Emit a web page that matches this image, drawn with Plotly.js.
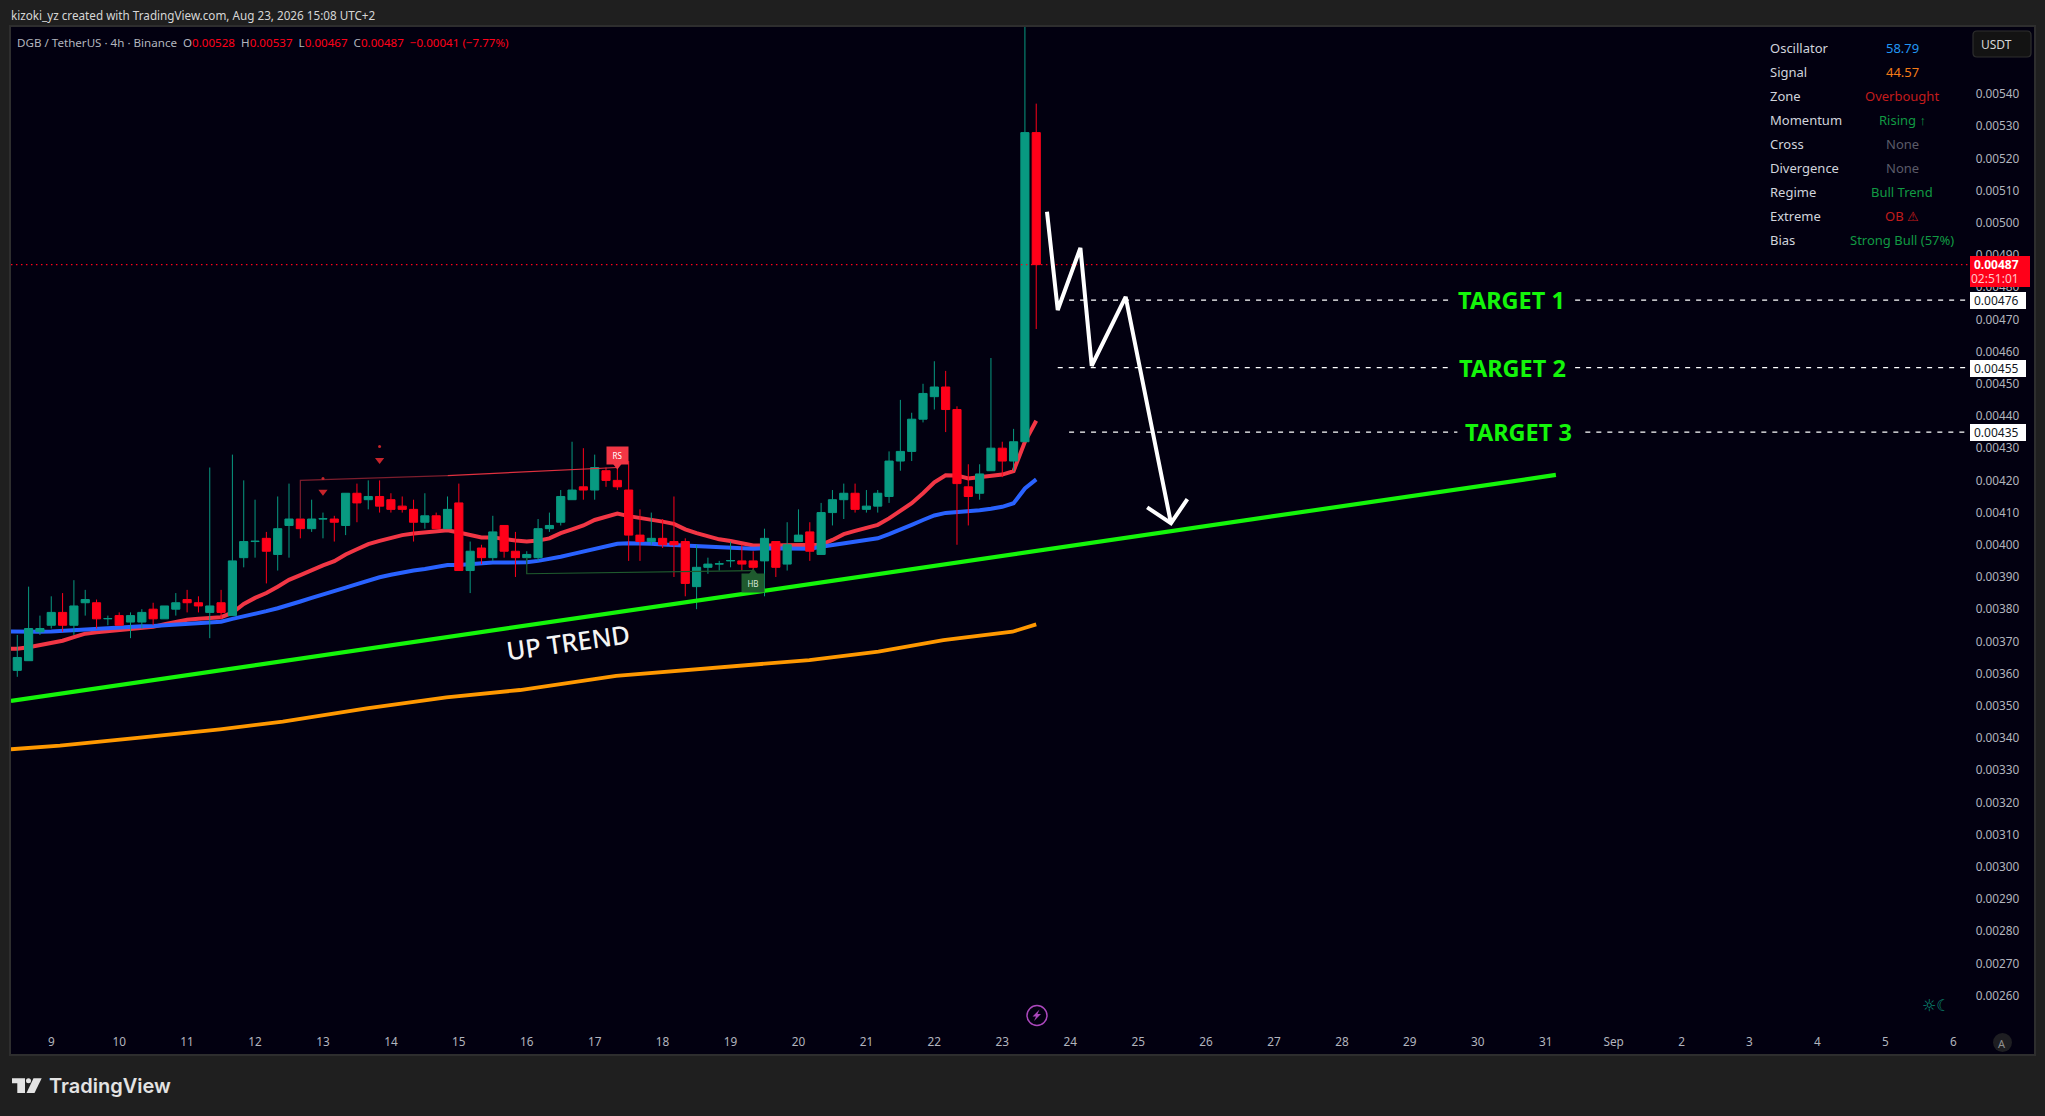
<!DOCTYPE html>
<html><head><meta charset="utf-8">
<script src="https://cdn.plot.ly/plotly-3.0.1.min.js"></script>
<style>html,body{margin:0;padding:0;background:#1f1f1f}#c{width:2045px;height:1116px}</style>
</head><body><div id="c"></div>
<script>
// Prices are written in units of 0.00001 USDT (the pair's tick size).
const UNIT = 1e-5;
const opens  = [361,364,373,375,379,375,382,382,377,378,376,376,380,377,380,383,382,379,382,378,396,401,402,397,406,408,405,408,408,406,416,414,415,414,412,411,407,409,405,413,392,399,396,406,398,396,396,405,407,414,418,417,423,420,417,403,401,402,401,401,387,393,394,395,395,395,395,401,394,401,404,397,410,414,416,411,412,415,426,429,439,446,449,442,418,416,423,430,426,432,528];
const highs  = [372,387,378,384,385,389,386,383,378,379,379,380,382,381,385,386,384,424,386,428,420,414,404,415,419,408,414,410,409,416,419,420,420,416,415,414,416,410,415,419,401,400,409,406,404,398,408,410,417,432,430,428,424,424,426,411,410,408,415,402,400,396,395,401,400,398,405,401,407,411,407,413,417,419,419,417,417,429,445,441,450,457,454,443,425,425,458,432,436,561,537];
const lows   = [359,364,372,374,373,372,378,374,375,375,371,374,375,377,378,379,379,371,377,378,393,396,388,392,396,402,404,402,401,403,407,411,410,410,410,401,405,405,405,392,385,394,395,396,390,395,395,404,406,414,414,414,418,417,395,395,400,399,390,384,380,391,392,393,392,392,384,390,392,401,395,397,406,408,410,410,410,413,423,426,438,442,435,400,406,414,423,421,423,432,467];
const closes = [365,374,374,379,375,381,383,377,377.1,375,378,379,377,381,382,382,381,381,379,395,401,401.1,398,405,408,405,408,408.1,407,416,413,415,412,411,411,407,409,405,411,392,398,396,404,398,396,397,405,406,415,417,417,424,420,418,403,401,402,400,400,388,393,394,394.1,395.1,394,393,402,393,400,403,398,410,414,416,411,412,416,426,429,439,447,449,442,419,415,422,430,426,432,528,487];

// Moving averages, starting one bar before the first candle.
const fastAverage = [367.7,367.7,368.2,368.9,369.7,370.2,371.3,372.4,372.8,373.1,373.4,373.7,374.2,374.5,375.3,376.0,376.7,377.0,377.3,377.5,378.9,381.6,383.5,385.0,387.0,389.1,390.6,392.2,393.6,394.9,397.0,398.6,400.2,401.2,402.2,403.0,403.5,403.8,403.9,404.5,403.8,403.0,402.3,402.3,401.7,401.3,401.0,401.3,402.0,403.6,404.8,406.0,407.7,408.7,409.7,408.9,408.4,407.9,407.2,406.5,404.8,403.6,402.5,401.7,401.2,400.5,399.8,399.8,399.8,399.8,399.8,399.8,400.0,401.5,403.3,404.3,405.1,406.2,408.2,410.6,412.9,416.0,419.4,421.6,421.5,420.6,420.9,421.5,421.8,422.9,432.0,438.5];
const midAverage = [373.1,373.0,373.0,373.0,373.1,373.3,373.6,374.0,374.1,374.3,374.4,374.6,374.7,374.8,375.0,375.3,375.5,375.7,375.9,376.1,377.0,377.7,378.6,379.4,380.3,381.5,382.4,383.5,384.5,385.4,386.7,387.8,389.0,389.9,390.7,391.5,392.0,392.5,393.1,393.7,393.7,394.0,394.3,394.5,394.5,394.5,394.6,395.0,395.5,396.3,397.1,397.9,398.8,399.6,400.3,400.5,400.5,400.3,400.1,399.9,399.8,399.6,399.4,399.3,399.1,398.9,398.8,398.9,398.9,398.9,398.9,398.8,399.4,399.9,400.5,400.9,401.3,402.0,403.3,404.6,406.2,407.7,409.1,409.9,410.1,410.4,410.7,411.2,411.8,412.9,417.5,420.3];
const slowBars   = [-0.56,3.77,10.83,17.9,23.45,30.86,37.9,44.4,52.9,64.8,69.96,76.06,81.8,87.9,90];
const slowAverage= [336.5,337.6,340.1,342.7,345.1,349.2,352.6,354.9,359.3,362.7,364.2,366.8,370.4,373.0,375.3];

// Drawn analysis
const trendBars = [-0.56,135.9], trendPrices = [351.5,421.7];
const arrowBars  = [90.95,91.9,93.9,94.9,97.9,101.9], arrowPrices = [503.4,472.9,492.2,455.6,477.0,406.7];
const headBars   = [99.8,101.9,103.35], headPrices = [411.6,406.7,414.2];
const targetPrices = [476,455,435];
const targetNames  = ['TARGET 1','TARGET 2','TARGET 3'];
const targetStarts = [92.9,91.9,92.9];
const targetGapFrom= [126.4,126.4,127.2];
const targetGapTo  = [137.6,137.6,138.5];
const targetEnd = 172.3;
const targetTextBars = [132,132.1,132.6];
const lastPrice = 487;
const sellArrowBars=[27,32], sellArrowPrices=[416.5,426.3], sellDotPrices=[420.6,430.5];

// Axis labels
const dayLabels = ['9','10','11','12','13','14','15','16','17','18','19','20','21','22','23','24','25','26','27','28','29','30','31','Sep','2','3','4','5','6'];
const priceTicks = [260,270,280,290,300,310,320,330,340,350,360,370,380,390,400,410,420,430,440,450,460,470,480,490,500,510,520,530,540];

// Status table
const tableLabels = ['Oscillator','Signal','Zone','Momentum','Cross','Divergence','Regime','Extreme','Bias'];
const tableValues = ['58.79','44.57','Overbought','Rising ↑','None','None','Bull Trend','OB ⚠','Strong Bull (57%)'];
const tableColors = ['#2196f3','#f57c17','#c21c1c','#119a43','#5b5b68','#5b5b68','#119a43','#c21c1c','#119a43'];

const GREEN='#089981', RED='#ff0019', FONT='"Noto Sans", sans-serif';
const L=11,R=2034,T=27,B=1054;
const px=x=>(x-L)/(R-L), py=y=>1-(y-T)/(B-T);
const pr=a=>a.map(v=>v===null?null:v*UNIT);
const bars=opens.map((_,i)=>i);
const avgBars=fastAverage.map((_,i)=>i-1);
const xr=[-0.556,178.13], yr=[241.86*UNIT,560.8*UNIT];
const ol={xaxis:'x2',yaxis:'y2',mode:'lines',hoverinfo:'skip'};

const traces=[
 {x:avgBars,y:pr(fastAverage),mode:'lines',line:{color:'#f23645',width:4}},
 {x:avgBars,y:pr(midAverage),mode:'lines',line:{color:'#2962ff',width:4}},
 {x:slowBars,y:pr(slowAverage),mode:'lines',line:{color:'#ff9800',width:3.8}},
 {type:'candlestick',xaxis:'x2',yaxis:'y2',x:bars,open:pr(opens),high:pr(highs),low:pr(lows),close:pr(closes),whiskerwidth:0,
  increasing:{line:{color:GREEN,width:1},fillcolor:GREEN},decreasing:{line:{color:RED,width:1},fillcolor:RED}},
 {...ol,x:[-0.56,targetEnd],y:pr([lastPrice,lastPrice]),line:{color:RED,width:1.3,dash:'1.5px,3.5px'}},
 {...ol,x:trendBars,y:pr(trendPrices),line:{color:'#14f50a',width:4.2}},
 {...ol,x:[25,25,38],y:pr([408,420,421.5]),line:{color:'#7c1d2d',width:1.2}},
 {...ol,x:[38,53],y:pr([421.5,424]),line:{color:'#e0303f',width:1.2}},
 {...ol,x:[45,45,65],y:pr([396,391,392]),line:{color:'#1f5a2e',width:1.2}},
 {...ol,mode:'markers',x:sellArrowBars,y:pr(sellArrowPrices),marker:{symbol:'triangle-down',size:8,color:'#c7242b'}},
 {...ol,mode:'markers',x:sellArrowBars,y:pr(sellDotPrices),marker:{symbol:'circle',size:3,color:'#c7242b'}},
 {...ol,mode:'markers',x:[53],y:pr([424.8]),marker:{symbol:'triangle-down',size:9,color:'#f23645'}},
 {...ol,mode:'markers',x:[65],y:pr([391.2]),marker:{symbol:'triangle-up',size:9,color:'#1f5a2e'}},
];
targetPrices.forEach((p,i)=>traces.push({...ol,
  x:[targetStarts[i],targetGapFrom[i],null,targetGapTo[i],targetEnd],
  y:pr([p,p,null,p,p]),line:{color:'#ffffff',width:1.2,dash:'5px,6px'}}));
traces.push({...ol,x:arrowBars,y:pr(arrowPrices),line:{color:'#ffffff',width:4}});
traces.push({...ol,x:headBars,y:pr(headPrices),line:{color:'#ffffff',width:4}});

const rr=(x0,y0,x1,y1,r)=>{const X=px,Y=py;return `M${X(x0+r)},${Y(y0)}L${X(x1-r)},${Y(y0)}Q${X(x1)},${Y(y0)} ${X(x1)},${Y(y0+r)}L${X(x1)},${Y(y1-r)}Q${X(x1)},${Y(y1)} ${X(x1-r)},${Y(y1)}L${X(x0+r)},${Y(y1)}Q${X(x0)},${Y(y1)} ${X(x0)},${Y(y1-r)}L${X(x0)},${Y(y0+r)}Q${X(x0)},${Y(y0)} ${X(x0+r)},${Y(y0)}Z`;};
const poly=pts=>'M'+pts.map(p=>px(p[0])+','+py(p[1])).join('L')+'Z';
const pap={xref:'paper',yref:'paper',layer:'above'};
const box=(x0,y0,x1,y1,fill)=>({...pap,type:'rect',x0:px(x0),x1:px(x1),y0:py(y0),y1:py(y1),fillcolor:fill,line:{width:0}});
const shapes=[
 box(1970,256,2030,287,RED),
 box(1970,292,2026,309,'#ffffff'),box(1970,360,2026,377,'#ffffff'),box(1970,424,2026,441,'#ffffff'),
 {...pap,type:'path',path:rr(1973,31,2031,57,4),fillcolor:'#131313',line:{color:'#2e2e2e',width:1.2}},
 {...pap,type:'circle',x0:px(1027),x1:px(1047),y0:py(1005.5),y1:py(1025.5),fillcolor:'rgba(0,0,0,0)',line:{color:'#ab47bc',width:1.5}},
 {...pap,type:'path',path:poly([[1039.5,1009.5],[1032.5,1016.5],[1036,1016.5],[1034,1021],[1041,1014],[1037.5,1014]]),fillcolor:'#ab47bc',line:{width:0}},
 {...pap,type:'circle',x0:px(1993),x1:px(2012),y0:py(1033),y1:py(1052),fillcolor:'#1e1e22',line:{width:0}},
 {...pap,type:'path',path:poly([[12,1078.3],[25,1078.3],[25,1093],[17.3,1093],[17.3,1083.3],[12,1083.3]]),fillcolor:'#e3e3e3',line:{width:0}},
 {...pap,type:'circle',x0:px(26),x1:px(31),y0:py(1078.3),y1:py(1083.3),fillcolor:'#e3e3e3',line:{width:0}},
 {...pap,type:'path',path:poly([[33.5,1078.3],[41.7,1078.3],[34.5,1093],[26.5,1093]]),fillcolor:'#e3e3e3',line:{width:0}},
];

const note=(x,y,text,o={})=>({xref:'paper',yref:'paper',x:px(x),y:py(y),text,showarrow:false,xanchor:o.xa||'left',yanchor:'middle',
  textangle:o.angle||0,font:{family:o.family||FONT,size:o.size||12,color:o.color||'#d1d4dc',weight:o.weight||400}});
const g=t=>`<span style="color:#b2b5be">${t}</span>`;
const annotations=[
 note(9,15,'kizoki_yz created with TradingView.com, Aug 23, 2026 15:08 UTC+2',{size:11.7,color:'#d6d6d6'}),
 note(15,42,`${g('DGB / TetherUS · 4h · Binance\u00a0\u00a0O')}0.00528\u00a0\u00a0${g('H')}0.00537\u00a0\u00a0${g('L')}0.00467\u00a0\u00a0${g('C')}0.00487\u00a0\u00a0−0.00041 (−7.77%)`,{size:11.6,color:RED}),
 note(1979,44,'USDT',{size:12,color:'#d6d6d6'}),
 note(2021,264,'0.00487',{xa:'right',size:12,color:'#ffffff',weight:700}),
 note(2021,278,'02:51:01',{xa:'right',size:12,color:'#ffc4c9'}),
 note(2021,300.5,'0.00476',{xa:'right',size:12,color:'#131722'}),
 note(2021,368.5,'0.00455',{xa:'right',size:12,color:'#131722'}),
 note(2021,432.5,'0.00435',{xa:'right',size:12,color:'#131722'}),
 note(568,641.5,'UP TREND',{xa:'center',size:25.5,color:'#f4f4f4',angle:-8,weight:500}),
 note(2002.4,1043,'A',{xa:'center',size:11,color:'#8f8f8f'}),
 note(1936,1005,'☼☾',{xa:'center',size:16,color:'#0c8c76',family:'"DejaVu Sans"'}),
 note(47,1086,'TradingView',{size:20,color:'#e3e3e3',weight:600,family:'Inter'}),
];
tableLabels.forEach((t,i)=>{const y=48.3+i*24.02;
  annotations.push(note(1768,y,t,{size:13,color:'#d1d4dc'}));
  annotations.push(note(1902,y,tableValues[i],{xa:'center',size:13,color:tableColors[i]}));});
targetNames.forEach((t,i)=>annotations.push({xref:'x',yref:'y',x:targetTextBars[i],y:targetPrices[i]*UNIT,text:t,showarrow:false,
  font:{family:FONT,size:23.5,color:'#14f50a',weight:700}}));
annotations.push({xref:'x',yref:'y',x:53,y:427.7*UNIT,text:'RS',showarrow:false,width:19,height:15,bgcolor:'#f23645',font:{family:FONT,size:8,color:'#fff'}});
annotations.push({xref:'x',yref:'y',x:65,y:388.1*UNIT,text:'HB',showarrow:false,width:20,height:16,bgcolor:'#1f5a2e',font:{family:FONT,size:8,color:'#d8e6da'}});

const axisFont={family:FONT,size:11.8,color:'#b2b5be'};
const layout={width:2045,height:1116,autosize:false,margin:{l:L,r:2045-R,t:T,b:1116-B,pad:0},
 paper_bgcolor:'#1f1f1f',plot_bgcolor:'#020010',showlegend:false,hovermode:false,boxgap:0.28,boxgroupgap:0,
 xaxis:{range:xr,tickmode:'array',tickvals:dayLabels.map((_,i)=>3+6*i),ticktext:dayLabels,tickfont:axisFont,ticks:'',ticklabelposition:'inside',ticklabelstandoff:5,
   showgrid:false,zeroline:false,showline:true,linecolor:'#2e2e2e',linewidth:2,mirror:true,fixedrange:true},
 yaxis:{range:yr,side:'right',tickmode:'array',tickvals:pr(priceTicks),tickformat:'.5f',tickfont:axisFont,ticks:'',ticklabelposition:'inside',ticklabelstandoff:14,
   showgrid:false,zeroline:false,showline:true,linecolor:'#2e2e2e',linewidth:2,mirror:true,fixedrange:true},
 xaxis2:{overlaying:'x',range:xr,visible:false,fixedrange:true,rangeslider:{visible:false}},
 yaxis2:{overlaying:'y',range:yr,visible:false,fixedrange:true},
 shapes,annotations};
Plotly.newPlot('c',traces,layout,{staticPlot:true,displayModeBar:false});
</script></body></html>
